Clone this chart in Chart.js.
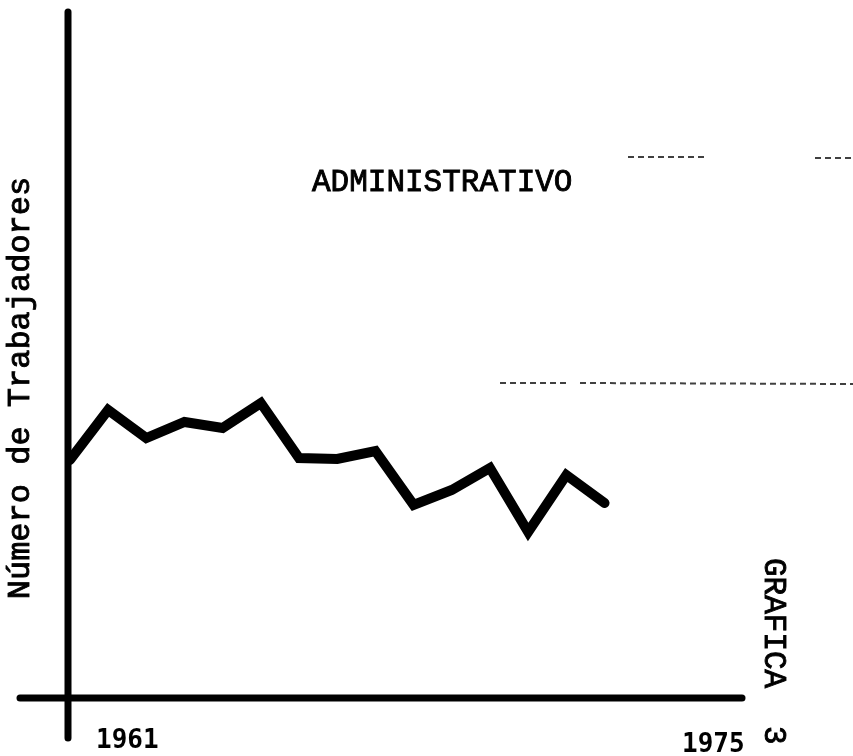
<!DOCTYPE html>
<html>
<head>
<meta charset="utf-8">
<script src="https://cdn.jsdelivr.net/npm/chart.js@4/dist/chart.umd.min.js"></script>
<style>
  html, body { margin: 0; padding: 0; background: #fff; }
  #wrap { width: 853px; height: 756px; position: relative; }
</style>
</head>
<body>
<div id="wrap"><canvas id="chart"></canvas></div>
<script>
// Data (y in arbitrary units, no scale shown)
const years = [1961, 1962, 1963, 1964, 1965, 1966, 1967, 1968, 1969, 1970, 1971, 1972, 1973, 1974, 1975];
const trabajadores = [23.8, 28.8, 26.0, 27.6, 27.0, 29.5, 24.0, 23.9, 24.7, 19.3, 20.8, 23.0, 16.6, 22.3, 19.5];
const tickLabels = ['1961', '1975'];
const seriesTitle = 'ADMINISTRATIVO';
const yTitle = 'Número de Trabajadores';
const sheetLabel = 'GRAFICA';
const sheetNumber = '3';

const ink = '#000';

// typed text looks heavier on the scan, so fill + thin stroke
function typed(ctx, text, x, y) {
    ctx.fillText(text, x, y);
    ctx.strokeText(text, x, y);
}

// draws the hand-drawn looking axes and the typed texts
const paperPlugin = {
    id: 'paper',
    beforeDatasetsDraw(chart) {
        const { ctx, chartArea } = chart;
        const x0 = chartArea.left;
        const y0 = chartArea.bottom;
        ctx.save();
        ctx.strokeStyle = ink;
        ctx.lineCap = 'round';

        // vertical axis, runs past the horizontal one
        ctx.lineWidth = 7;
        ctx.beginPath();
        ctx.moveTo(x0, 12);
        ctx.lineTo(x0, 738);
        ctx.stroke();

        // horizontal axis, starts left of the vertical one
        ctx.beginPath();
        ctx.moveTo(20, y0);
        ctx.lineTo(chartArea.right, y0);
        ctx.stroke();

        // faint scan marks
        ctx.lineCap = 'butt';
        ctx.strokeStyle = 'rgba(0,0,0,0.75)';
        ctx.lineWidth = 2;
        ctx.setLineDash([6, 4]);
        ctx.beginPath();
        ctx.moveTo(500, 383); ctx.lineTo(570, 383);
        ctx.moveTo(580, 383); ctx.lineTo(853, 384);
        ctx.moveTo(628, 157); ctx.lineTo(705, 157);
        ctx.moveTo(815, 158); ctx.lineTo(853, 158);
        ctx.stroke();
        ctx.setLineDash([]);

        ctx.fillStyle = ink;
        ctx.strokeStyle = ink;
        ctx.lineWidth = 0.9;
        // title of series
        ctx.font = '31px "Liberation Mono", "DejaVu Sans Mono", monospace';
        ctx.textAlign = 'left';
        ctx.textBaseline = 'middle';
        typed(ctx, seriesTitle, 312, 183);

        // axis title, rotated
        ctx.save();
        ctx.translate(21, 388);
        ctx.rotate(-Math.PI / 2);
        ctx.textAlign = 'center';
        ctx.font = '32px "Liberation Mono", "DejaVu Sans Mono", monospace';
        typed(ctx, yTitle, 0, 0);
        ctx.restore();

        // year labels
        ctx.font = 'bold 26px "DejaVu Sans Mono", "Liberation Mono", monospace';
        ctx.textAlign = 'left';
        ctx.textBaseline = 'alphabetic';
        ctx.fillText(tickLabels[0], 96, 748);
        ctx.fillText(tickLabels[1], 682, 752);

        // sheet label, reading downwards
        ctx.save();
        ctx.translate(773, 558);
        ctx.rotate(Math.PI / 2);
        ctx.textAlign = 'left';
        ctx.textBaseline = 'middle';
        ctx.font = '31px "Liberation Mono", "DejaVu Sans Mono", monospace';
        typed(ctx, sheetLabel, 0, 0);
        typed(ctx, sheetNumber, 168, 0);
        ctx.restore();

        ctx.restore();
    }
};

const ctx = document.getElementById('chart').getContext('2d');
new Chart(ctx, {
    type: 'line',
    data: {
        datasets: [{
            label: seriesTitle,
            data: years.map((y, i) => ({ x: y, y: trabajadores[i] })),
            borderColor: ink,
            borderWidth: 10,
            borderJoinStyle: 'miter',
            borderCapStyle: 'round',
            pointRadius: 0,
            tension: 0,
            fill: false
        }]
    },
    options: {
        responsive: true,
        maintainAspectRatio: false,
        animation: false,
        layout: {
            padding: { left: 68, right: 111, top: 10, bottom: 58 }
        },
        plugins: {
            legend: { display: false },
            tooltip: { enabled: false }
        },
        scales: {
            x: {
                type: 'linear',
                display: false,
                min: 1960.95,
                max: 1978.6
            },
            y: {
                display: false,
                min: 0,
                max: 68.8
            }
        }
    },
    plugins: [paperPlugin]
});
</script>
</body>
</html>
